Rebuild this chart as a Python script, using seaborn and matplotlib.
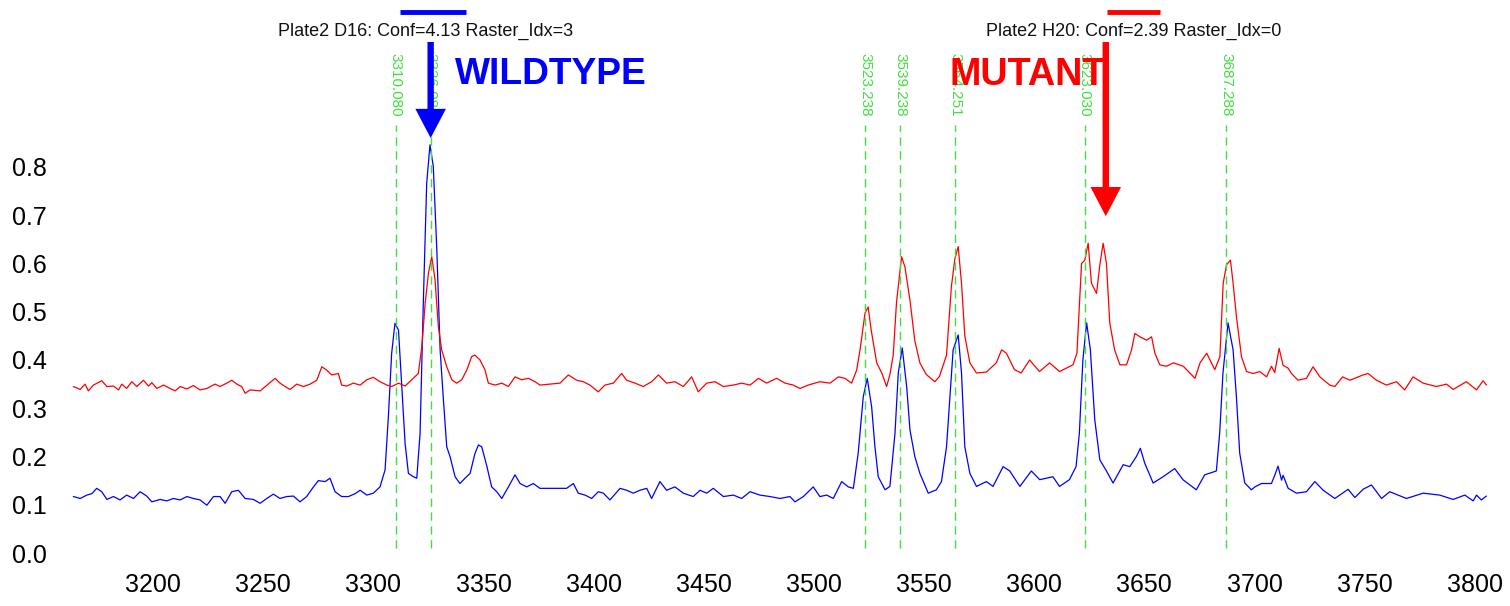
import matplotlib
matplotlib.use("Agg")
import matplotlib.pyplot as plt
import seaborn as sns
import pandas as pd

# ---------------- data ----------------
wt_mz = [3163.8, 3166.9, 3169.9, 3172.2, 3174.4, 3176.7, 3179.0, 3182.0, 3185.0, 3188.0,
         3191.1, 3194.1, 3197.1, 3199.4, 3203.2, 3206.2, 3209.2, 3212.3, 3215.3, 3218.3,
         3221.3, 3224.4, 3227.4, 3230.4, 3232.7, 3235.7, 3238.7, 3241.8, 3245.5, 3248.6,
         3251.6, 3254.6, 3257.6, 3260.7, 3263.7, 3266.7, 3269.7, 3272.8, 3275.0, 3278.1,
         3280.3, 3282.6, 3285.6, 3288.7, 3291.7,
         3294.0, 3297.0, 3300.0, 3303.0, 3305.3, 3306.8, 3308.3, 3309.8, 3311.4, 3312.9,
         3314.4, 3315.9, 3318.2, 3319.7, 3321.2, 3322.7, 3324.2, 3325.7, 3327.2, 3328.8,
         3330.3, 3331.8, 3333.3, 3334.8, 3337.1, 3339.3, 3341.6, 3343.9, 3346.1, 3347.7,
         3349.2, 3351.4, 3353.7, 3356.0, 3358.3, 3361.3, 3364.3, 3366.6, 3369.6, 3372.6,
         3375.6,
         3384.7, 3387.7, 3390.8, 3393.0, 3396.1, 3399.1, 3402.1, 3404.4, 3407.4, 3412.0,
         3415.0, 3418.0, 3421.0, 3424.1, 3426.3, 3430.1, 3433.1, 3436.9, 3440.7, 3445.2,
         3448.3, 3451.3, 3454.3, 3458.9, 3463.4, 3467.2, 3471.0, 3475.5, 3480.0, 3484.6,
         3489.1, 3491.4, 3495.2, 3499.7, 3502.7, 3505.8, 3508.8, 3512.6, 3515.6, 3517.9,
         3520.1, 3522.4, 3524.2, 3526.2, 3527.7, 3529.2, 3532.3, 3534.5, 3536.8, 3538.3,
         3540.1, 3542.1, 3543.6, 3545.8, 3548.1, 3551.9, 3555.6, 3557.9, 3560.2, 3563.2,
         3565.5, 3567.0, 3568.5, 3570.8, 3573.8, 3578.3, 3581.3, 3585.9, 3588.9, 3593.5,
         3598.7, 3602.5, 3608.5, 3611.5, 3616.0, 3619.0, 3620.5, 3622.1, 3623.8, 3625.5,
         3627.5, 3629.8, 3632.8, 3635.8, 3640.4, 3643.4, 3646.4, 3648.2, 3650.2, 3654.0,
         3658.5, 3663.8, 3667.5, 3673.6, 3677.4, 3682.7, 3684.2, 3685.7, 3688.0, 3690.3,
         3691.8, 3693.3, 3695.6, 3698.6,
         3700.2, 3703.2, 3707.7, 3709.2, 3710.7, 3712.3, 3713.0, 3715.3, 3719.1, 3723.6,
         3727.4, 3731.2, 3736.5, 3742.5, 3745.6, 3749.3, 3753.1, 3757.7, 3761.4, 3769.0,
         3776.6, 3784.1, 3790.2, 3795.5, 3799.3, 3800.8, 3803.0, 3805.3]
wt_int = [0.117, 0.113, 0.120, 0.123, 0.134, 0.127, 0.111, 0.117, 0.110, 0.120,
          0.113, 0.127, 0.118, 0.106, 0.111, 0.108, 0.113, 0.110, 0.117, 0.113,
          0.110, 0.099, 0.117, 0.117, 0.103, 0.127, 0.130, 0.113, 0.111, 0.103,
          0.113, 0.122, 0.113, 0.117, 0.118, 0.106, 0.117, 0.137, 0.150, 0.148,
          0.155, 0.127, 0.117, 0.117, 0.123,
          0.130, 0.120, 0.124, 0.137, 0.172, 0.282, 0.414, 0.476, 0.462, 0.345,
          0.227, 0.165, 0.158, 0.155, 0.248, 0.524, 0.766, 0.846, 0.801, 0.628,
          0.421, 0.317, 0.220, 0.200, 0.158, 0.144, 0.155, 0.165, 0.206, 0.224,
          0.220, 0.182, 0.137, 0.127, 0.113, 0.137, 0.162, 0.144, 0.137, 0.144,
          0.134,
          0.134, 0.134, 0.144, 0.124, 0.120, 0.113, 0.127, 0.124, 0.110, 0.134,
          0.130, 0.124, 0.130, 0.134, 0.113, 0.148, 0.130, 0.137, 0.124, 0.117,
          0.130, 0.124, 0.134, 0.117, 0.120, 0.113, 0.127, 0.120, 0.117, 0.113,
          0.117, 0.106, 0.117, 0.137, 0.117, 0.120, 0.113, 0.148, 0.137, 0.134,
          0.207, 0.324, 0.362, 0.303, 0.220, 0.158, 0.131, 0.138, 0.248, 0.373,
          0.425, 0.345, 0.255, 0.200, 0.165, 0.124, 0.131, 0.148, 0.220, 0.421,
          0.452, 0.373, 0.220, 0.165, 0.138, 0.148, 0.138, 0.179, 0.170, 0.138,
          0.170, 0.152, 0.158, 0.138, 0.152, 0.179, 0.248, 0.400, 0.477, 0.421,
          0.276, 0.193, 0.170, 0.145, 0.183, 0.179, 0.200, 0.217, 0.186, 0.145,
          0.158, 0.175, 0.152, 0.131, 0.162, 0.170, 0.248, 0.373, 0.477, 0.421,
          0.324, 0.207, 0.145, 0.131,
          0.137, 0.144, 0.144, 0.161, 0.180, 0.151, 0.161, 0.134, 0.124, 0.127,
          0.148, 0.130, 0.113, 0.132, 0.115, 0.132, 0.141, 0.113, 0.127, 0.113,
          0.124, 0.120, 0.111, 0.120, 0.108, 0.120, 0.110, 0.118]

mut_mz = [3163.8, 3166.9, 3169.1, 3170.6, 3172.9, 3176.7, 3179.0, 3182.0, 3184.3, 3185.8,
          3188.0, 3190.3, 3192.6, 3195.6, 3197.9, 3199.4, 3201.7, 3204.7, 3207.7, 3210.0,
          3212.3, 3215.3, 3218.3, 3221.3, 3224.4, 3228.1, 3230.4, 3233.4, 3235.7, 3238.0,
          3240.2, 3241.8, 3244.0, 3248.6, 3252.3, 3255.4, 3257.6, 3259.9, 3262.2, 3265.2,
          3268.2, 3271.3, 3274.3, 3276.6, 3278.8, 3281.1, 3284.1, 3285.6, 3287.9, 3290.9,
          3294.0, 3297.0, 3300.0, 3303.0, 3306.1, 3308.3, 3311.4, 3314.4, 3317.4, 3320.4,
          3322.0, 3323.5, 3325.0, 3326.5, 3328.0, 3329.5, 3331.0, 3333.3, 3335.6, 3337.8,
          3340.1, 3342.4, 3344.6, 3346.1, 3348.4, 3350.7, 3352.2, 3355.2, 3358.3, 3361.3,
          3364.3, 3367.3, 3370.4, 3373.4, 3375.6,
          3384.7, 3388.5, 3392.3, 3395.3, 3398.3, 3402.1, 3405.1, 3408.9, 3412.7, 3415.0,
          3418.8, 3422.5, 3426.3, 3429.4, 3433.1, 3436.9, 3440.7, 3444.5, 3447.5, 3451.3,
          3455.1, 3458.9, 3463.4, 3467.2, 3471.0, 3474.8, 3478.5, 3483.1, 3486.9, 3490.6,
          3493.7, 3497.4, 3502.7, 3507.3, 3511.1, 3514.1, 3517.1, 3519.4,
          3520.9, 3523.2, 3524.6, 3526.0, 3528.5, 3530.8, 3533.0, 3534.5, 3536.0, 3537.5,
          3539.8, 3541.3, 3543.6, 3545.8, 3548.1, 3551.0, 3554.9, 3557.0, 3560.2, 3562.4,
          3564.0, 3565.5, 3567.0, 3568.5, 3570.8, 3573.8, 3578.3, 3582.8, 3585.2, 3587.4,
          3591.0, 3594.1, 3597.9, 3602.4, 3607.0, 3611.5, 3617.6, 3619.4, 3621.5, 3623.0,
          3624.5, 3626.0, 3628.3, 3629.8, 3631.3, 3632.8, 3634.3, 3636.5, 3638.9, 3641.9,
          3644.2, 3645.7, 3648.0, 3651.0, 3653.3, 3654.8, 3657.0, 3660.0, 3663.2, 3667.7,
          3673.0, 3675.3, 3678.3, 3682.0, 3684.3, 3685.8, 3687.3, 3689.1, 3690.3, 3691.8,
          3694.1,
          3696.4, 3699.4, 3702.4, 3705.5, 3707.7, 3709.2, 3711.2, 3713.0, 3715.3, 3716.8,
          3719.8, 3723.6, 3726.6, 3729.7, 3734.2, 3736.5, 3740.0, 3743.3, 3749.3, 3751.6,
          3755.4, 3759.9, 3764.5, 3768.2, 3772.0, 3776.6, 3782.6, 3787.2, 3790.2, 3796.2,
          3800.8, 3803.8, 3805.3]
mut_int = [0.345, 0.339, 0.350, 0.336, 0.348, 0.357, 0.345, 0.346, 0.338, 0.350,
           0.341, 0.355, 0.345, 0.358, 0.346, 0.353, 0.341, 0.348, 0.341, 0.336,
           0.345, 0.340, 0.347, 0.338, 0.341, 0.350, 0.345, 0.352, 0.358, 0.350,
           0.345, 0.331, 0.338, 0.336, 0.350, 0.362, 0.352, 0.345, 0.339, 0.350,
           0.345, 0.350, 0.358, 0.386, 0.379, 0.369, 0.372, 0.348, 0.346, 0.352,
           0.348, 0.359, 0.364, 0.355, 0.348, 0.345, 0.352, 0.346, 0.359, 0.372,
           0.428, 0.517, 0.580, 0.614, 0.566, 0.469, 0.421, 0.386, 0.359, 0.352,
           0.359, 0.379, 0.407, 0.410, 0.400, 0.379, 0.352, 0.348, 0.352, 0.345,
           0.365, 0.359, 0.362, 0.355, 0.348,
           0.352, 0.369, 0.358, 0.355, 0.348, 0.334, 0.348, 0.352, 0.372, 0.358,
           0.352, 0.345, 0.355, 0.369, 0.352, 0.355, 0.345, 0.365, 0.334, 0.352,
           0.355, 0.345, 0.348, 0.352, 0.348, 0.362, 0.352, 0.362, 0.352, 0.348,
           0.341, 0.348, 0.355, 0.352, 0.365, 0.362, 0.352, 0.379,
           0.420, 0.497, 0.510, 0.462, 0.394, 0.373, 0.345, 0.370, 0.410, 0.520,
           0.614, 0.593, 0.524, 0.440, 0.394, 0.370, 0.355, 0.366, 0.410, 0.552,
           0.610, 0.635, 0.559, 0.450, 0.394, 0.373, 0.375, 0.394, 0.421, 0.414,
           0.380, 0.373, 0.400, 0.376, 0.394, 0.376, 0.390, 0.414, 0.600, 0.607,
           0.642, 0.559, 0.538, 0.597, 0.642, 0.600, 0.477, 0.421, 0.390, 0.390,
           0.421, 0.455, 0.448, 0.441, 0.448, 0.414, 0.390, 0.387, 0.394, 0.387,
           0.362, 0.394, 0.414, 0.380, 0.407, 0.559, 0.597, 0.607, 0.559, 0.490,
           0.407,
           0.376, 0.372, 0.376, 0.365, 0.387, 0.374, 0.424, 0.389, 0.383, 0.372,
           0.358, 0.362, 0.386, 0.365, 0.348, 0.345, 0.365, 0.358, 0.369, 0.372,
           0.358, 0.348, 0.355, 0.338, 0.365, 0.352, 0.345, 0.350, 0.339, 0.355,
           0.338, 0.357, 0.348]

peak_mz = [3310.080, 3326.080, 3523.238, 3539.238, 3564.251, 3623.030, 3687.288]
peak_labels = ["3310.080", "3326.080", "3523.238", "3539.238", "3564.251", "3623.030", "3687.288"]

wt_title = "Plate2 D16: Conf=4.13 Raster_Idx=3"
mut_title = "Plate2 H20: Conf=2.39 Raster_Idx=0"
wt_arrow_mz, wt_arrow_tip = 3326.0, 0.860
mut_arrow_mz, mut_arrow_tip = 3632.5, 0.698

x_ticks = [3200, 3250, 3300, 3350, 3400, 3450, 3500, 3550, 3600, 3650, 3700, 3750, 3800]
y_ticks = [0.0, 0.1, 0.2, 0.3, 0.4, 0.5, 0.6, 0.7, 0.8]

# ---------------- plot ----------------
sns.set_style("white")
plt.rcParams["font.family"] = ["Liberation Sans", "DejaVu Sans"]

fig = plt.figure(figsize=(15.1, 6.06), dpi=100)
ax = fig.add_axes([65 / 1510, 46 / 606, 1430 / 1510, 560 / 606])

df_wt = pd.DataFrame({"mz": wt_mz, "intensity": wt_int})
df_mut = pd.DataFrame({"mz": mut_mz, "intensity": mut_int})
sns.lineplot(data=df_wt, x="mz", y="intensity", color="#0000ff", lw=0.9,
             estimator=None, sort=False, ax=ax, zorder=2)
sns.lineplot(data=df_mut, x="mz", y="intensity", color="#ff0000", lw=0.9,
             estimator=None, sort=False, ax=ax, zorder=3)

ax.set_xlim(3160.0, 3809.2)
ax.set_ylim(-0.0145, 1.146)

green = "#3ee03e"
for mz, lab in zip(peak_mz, peak_labels):
    ax.plot([mz, mz], [0.0104, 0.887], color=green, lw=1.0,
            linestyle=(0, (6, 4)), zorder=4)
    ax.text(mz, 1.036, lab, rotation=270, ha="center", va="top",
            fontsize=11, color=green, zorder=4)

# titles with short coloured bars above
ax.text(3323.9, 1.080, wt_title, ha="center", va="center", fontsize=13, color="#111111")
ax.text(3645.2, 1.080, mut_title, ha="center", va="center", fontsize=13, color="#111111")
ax.plot([3312.1, 3342.1], [1.122, 1.122], color="#0000ff", lw=3.5,
        solid_capstyle="butt", clip_on=False)
ax.plot([3633.0, 3657.0], [1.122, 1.122], color="#ff0000", lw=3.5,
        solid_capstyle="butt", clip_on=False)

ax.text(3337.1, 0.991, "WILDTYPE", ha="left", va="center", fontsize=26.7,
        fontweight="bold", color="#0000ff", zorder=5)
ax.text(3561.7, 0.991, "MUTANT", ha="left", va="center", fontsize=27.2,
        fontweight="bold", color="#ff0000", zorder=5)

arrow_kw = dict(width=4.6, headwidth=22, headlength=21, shrink=0.0, linewidth=0)
ax.annotate("", xy=(wt_arrow_mz, wt_arrow_tip), xytext=(wt_arrow_mz, 1.059),
            arrowprops=dict(facecolor="#0000ff", edgecolor="#0000ff", **arrow_kw),
            zorder=6)
ax.annotate("", xy=(mut_arrow_mz, mut_arrow_tip), xytext=(mut_arrow_mz, 1.059),
            arrowprops=dict(facecolor="#ff0000", edgecolor="#ff0000", **arrow_kw),
            zorder=6)

ax.set_xticks(x_ticks)
ax.set_xticklabels([str(t) for t in x_ticks])
ax.set_yticks(y_ticks)
ax.set_yticklabels([f"{t:.1f}" for t in y_ticks])
ax.tick_params(axis="both", length=0, labelsize=18, colors="black")
ax.tick_params(axis="x", pad=9)
ax.tick_params(axis="y", pad=13)
ax.set_xlabel("")
ax.set_ylabel("")
for s in ax.spines.values():
    s.set_visible(False)
ax.grid(False)

fig.savefig("out.png", dpi=100)
